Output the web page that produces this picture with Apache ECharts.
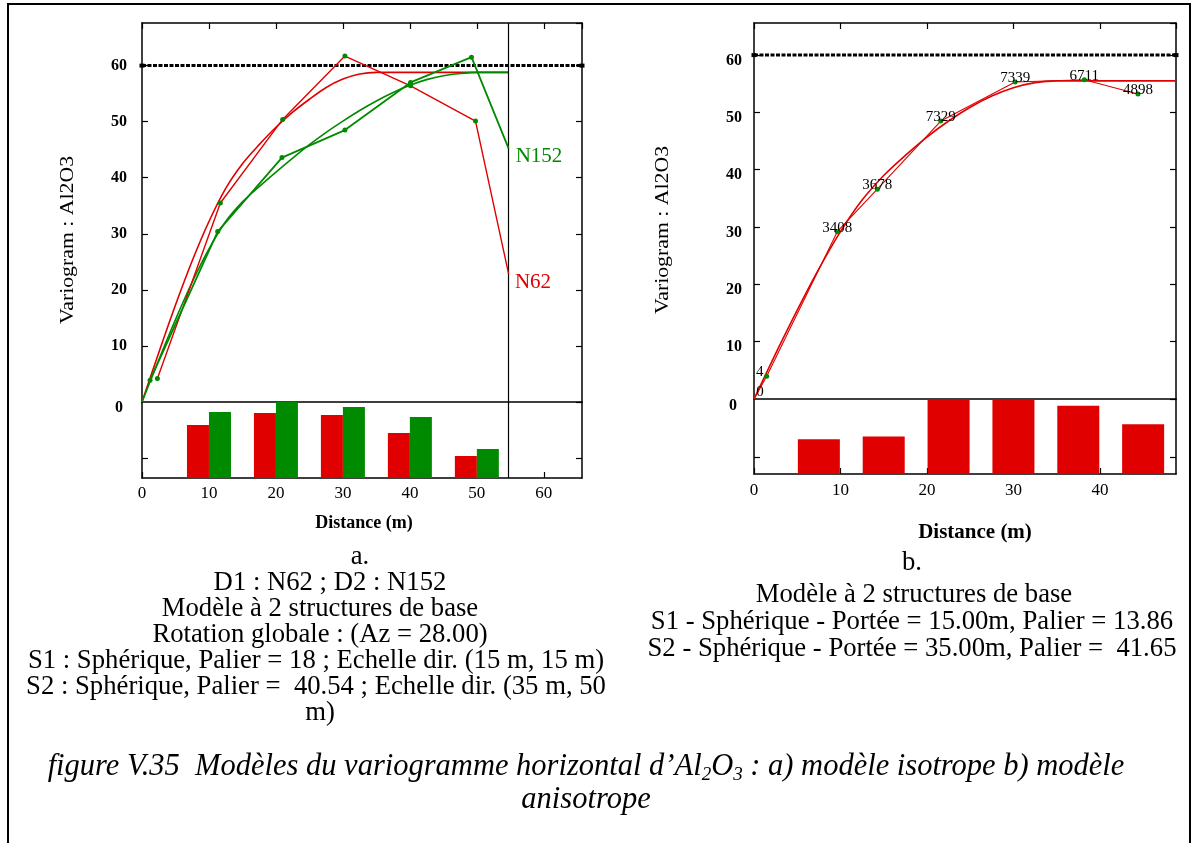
<!DOCTYPE html>
<html>
<head>
<meta charset="utf-8">
<script src="https://cdn.jsdelivr.net/npm/echarts@6/dist/echarts.min.js"></script>
<style>
html,body{margin:0;padding:0;background:#fff;}
#c{width:1195px;height:843px;}
</style>
</head>
<body>
<div id="c"></div>
<script>
// ---------- DATA ----------
// Chart a : isotropic model, directions N62 (red) and N152 (green)
const lagsA = [10, 20, 30, 40, 50];
const pairsN62 = [53, 65, 63, 45, 22];      // relative pair counts
const pairsN152 = [66, 76, 71, 61, 29];
const expN62 = [[2.3, 4.2], [11.7, 35.5], [21.0, 50.4], [30.3, 61.7], [40.1, 56.4], [49.8, 50.1], [54.75, 22.8]];
const expN152 = [[1.2, 3.9], [11.3, 30.4], [20.9, 43.6], [30.3, 48.5], [40.1, 57.0], [49.2, 61.5], [54.75, 45.2]];
const modelDistA = [0, 2.5, 5, 7.5, 10, 12.5, 15, 17.5, 20, 22.5, 25, 27.5, 30, 32.5, 35, 37.5, 40, 42.5, 45, 47.5, 50, 54.75];
const modelN62 = [0, 8.8, 17.3, 25.2, 32.2, 38.1, 42.5, 45.9, 49.0, 51.7, 54.0, 56.1, 57.6, 58.5, 58.8, 58.8, 58.8, 58.8, 58.8, 58.8, 58.8, 58.8];
const modelN152 = [0, 7.5, 14.7, 21.4, 27.3, 32.2, 35.7, 38.4, 41.0, 43.5, 45.9, 48.1, 50.1, 52.0, 53.7, 55.2, 56.5, 57.5, 58.2, 58.6, 58.8, 58.8];
const sillA = 60;
const cutA = 54.75;
const xMaxA = 65.7, yMaxA = 67.6;

// Chart b : anisotropic model
const lagsB = [7.5, 15, 22.5, 30, 37.5, 45];
const pairsB = [3408, 3678, 7329, 7339, 6711, 4898];
const expB = [[0, 0], [1.47, 3.96], [9.63, 29.2], [14.26, 36.6], [21.6, 48.5], [30.2, 55.3], [38.2, 55.7], [44.4, 53.2]];
const expBLabels = ['0', '4', '3408', '3678', '7329', '7339', '6711', '4898'];
const modelDistB = [0, 2.5, 5, 7.5, 10, 12.5, 15, 17.5, 20, 22.5, 25, 27.5, 30, 32.5, 35, 48.8];
const modelB = [0, 7.9, 15.5, 22.7, 29.2, 34.7, 39.0, 42.5, 45.7, 48.5, 50.9, 52.85, 54.3, 55.2, 55.5, 55.5];
const sillB = 60;
const xMaxB = 48.8, yMaxB = 65.6, pairsMaxB = 7380, pairTickB = 1670;

const yTicks = [0, 10, 20, 30, 40, 50, 60];

// ---------- STYLE ----------
const RED = 'rgb(224,0,0)';
const GREEN = 'rgb(0,138,0)';
const SERIF = '"Liberation Serif","Times New Roman",serif';

const chart = echarts.init(document.getElementById('c'));

const axBase = {
  type: 'value',
  splitLine: {show: false},
  axisLine: {show: true, onZero: false, lineStyle: {color: '#000', width: 1.5}},
  axisTick: {show: false},
  axisLabel: {show: false},
};
function ax(extra) { return Object.assign({}, JSON.parse(JSON.stringify(axBase)), extra); }
const tickInside = {show: true, inside: true, length: 6, lineStyle: {color: '#000', width: 1.2}};

const xAxes = [
  ax({gridIndex: 0, position: 'bottom', min: 0, max: xMaxA}),
  ax({gridIndex: 0, position: 'top', min: 0, max: xMaxA, interval: 10, axisTick: tickInside}),
  ax({gridIndex: 1, position: 'bottom', min: 0, max: xMaxA, interval: 10, axisTick: tickInside,
      axisLabel: {show: true, showMaxLabel: false, margin: 7, color: '#000', fontFamily: SERIF, fontSize: 17,
        formatter: v => (v % 10 === 0 ? String(v) : '')}}),
  ax({gridIndex: 2, position: 'bottom', min: 0, max: xMaxB}),
  ax({gridIndex: 2, position: 'top', min: 0, max: xMaxB, interval: 10, axisTick: tickInside}),
  ax({gridIndex: 3, position: 'bottom', min: 0, max: xMaxB, interval: 10, axisTick: tickInside,
      axisLabel: {show: true, showMaxLabel: false, margin: 8, color: '#000', fontFamily: SERIF, fontSize: 17,
        formatter: v => (v % 10 === 0 ? String(v) : '')}}),
];
const yLab = (m, va, lh) => ({show: true, showMinLabel: false, showMaxLabel: false, margin: m, color: '#000', fontFamily: SERIF,
  fontSize: 16, fontWeight: 'bold', verticalAlign: va, lineHeight: lh,
  formatter: v => (yTicks.indexOf(v) >= 0 ? String(v) : '')});
const yAxes = [
  ax({gridIndex: 0, position: 'left', min: 0, max: yMaxA, interval: 10, axisTick: tickInside, axisLabel: yLab(15, 'middle', 16)}),
  ax({gridIndex: 0, position: 'right', min: 0, max: yMaxA, interval: 10, axisTick: tickInside}),
  ax({gridIndex: 1, position: 'left', min: 0, max: 76, interval: 20,
      axisTick: Object.assign({}, tickInside, {customValues: [20]})}),
  ax({gridIndex: 1, position: 'right', min: 0, max: 76, interval: 20,
      axisTick: Object.assign({}, tickInside, {customValues: [20]})}),
  ax({gridIndex: 2, position: 'left', min: 0, max: yMaxB, interval: 10, axisTick: tickInside, axisLabel: yLab(12, 'top', 11)}),
  ax({gridIndex: 2, position: 'right', min: 0, max: yMaxB, interval: 10, axisTick: tickInside}),
  ax({gridIndex: 3, position: 'left', min: 0, max: pairsMaxB,
      axisTick: Object.assign({}, tickInside, {customValues: [pairTickB]})}),
  ax({gridIndex: 3, position: 'right', min: 0, max: pairsMaxB,
      axisTick: Object.assign({}, tickInside, {customValues: [pairTickB]})}),
];

const vline = (x) => ({symbol: 'none', silent: true, label: {show: false},
  lineStyle: {color: '#000', type: 'solid', width: 1.2}, data: [{xAxis: x}]});

const sillSeries = (xi, yi, xmax, s) => ({
  type: 'line', xAxisIndex: xi, yAxisIndex: yi, data: [[0, s], [xmax, s]],
  symbol: 'rect', symbolSize: [5, 4], itemStyle: {color: '#000'},
  lineStyle: {color: '#000', width: 3, type: [4, 1.5]}, z: 3, animation: false
});

const modelSeries = (xi, yi, xs, ys, color) => ({
  type: 'line', xAxisIndex: xi, yAxisIndex: yi, data: xs.map((x, i) => [x, ys[i]]),
  smooth: 0.3, symbol: 'none', lineStyle: {color: color, width: 1.6}, z: 4, animation: false
});

const expSeries = (xi, yi, pts, color, w) => ({
  type: 'line', xAxisIndex: xi, yAxisIndex: yi,
  data: pts.map((p, i) => (i === pts.length - 1 ? {value: p, symbol: 'none'} : {value: p})),
  symbol: 'circle', symbolSize: 5, itemStyle: {color: GREEN},
  lineStyle: {color: color, width: w}, z: 5, animation: false
});

const series = [
  sillSeries(0, 0, xMaxA, sillA),
  modelSeries(0, 0, modelDistA, modelN62, RED),
  modelSeries(0, 0, modelDistA, modelN152, GREEN),
  expSeries(0, 0, expN62, RED, 1.4),
  Object.assign(expSeries(0, 0, expN152, GREEN, 1.8), {markLine: vline(cutA)}),
  {type: 'bar', xAxisIndex: 2, yAxisIndex: 2, data: lagsA.map((x, i) => [x, pairsN62[i]]),
   barWidth: 22, barGap: '0%', itemStyle: {color: RED}, animation: false},
  {type: 'bar', xAxisIndex: 2, yAxisIndex: 2, data: lagsA.map((x, i) => [x, pairsN152[i]]),
   barWidth: 22, barGap: '0%', itemStyle: {color: GREEN}, animation: false},
  {type: 'line', xAxisIndex: 2, yAxisIndex: 2, data: [], markLine: vline(cutA), animation: false},

  sillSeries(3, 4, xMaxB, sillB),
  modelSeries(3, 4, modelDistB, modelB, RED),
  {type: 'line', xAxisIndex: 3, yAxisIndex: 4,
   data: expB.map((p, i) => {
     const d = {value: p};
     if (i === 0) { d.symbolSize = 1; d.itemStyle = {color: RED}; d.label = {offset: [6, -7]}; }
     if (i === 1) { d.label = {offset: [-7, -4]}; }
     return d;
   }),
   symbol: 'circle', symbolSize: 5, itemStyle: {color: GREEN},
   lineStyle: {color: RED, width: 1.1},
   label: {show: true, position: 'inside', offset: [0, -4], color: '#000', fontFamily: SERIF, fontSize: 15,
     formatter: p => expBLabels[p.dataIndex]},
   z: 5, animation: false},
  {type: 'bar', xAxisIndex: 5, yAxisIndex: 6, data: lagsB.map((x, i) => [x, pairsB[i]]),
   barWidth: 42, itemStyle: {color: RED}, animation: false},
];

const TXT = '26.7px ' + SERIF;
const T = (x, y, text, opt) => ({
  type: 'text', x: x, y: y, silent: true,
  style: Object.assign({text: text, fill: '#000', font: TXT, align: 'center', verticalAlign: 'middle'}, opt || {})
});
const L = (x1, y1, x2, y2, w) => ({type: 'line', silent: true, shape: {x1, y1, x2, y2}, style: {stroke: '#000', lineWidth: w || 2}});

const graphics = [
  L(8, 4, 8, 843), L(7, 4, 1191, 4), L(1190, 4, 1190, 843),
  T(119, 408, '0', {font: 'bold 16px ' + SERIF}),
  T(733, 406, '0', {font: 'bold 16px ' + SERIF}),
  Object.assign(T(68, 240, 'Variogram : Al2O3', {font: '18px ' + SERIF}), {rotation: Math.PI / 2, scaleX: 1.21}),
  Object.assign(T(663, 230, 'Variogram : Al2O3', {font: '18px ' + SERIF}), {rotation: Math.PI / 2, scaleX: 1.21}),
  T(364, 523, 'Distance (m)', {font: 'bold 18px ' + SERIF}),
  T(975, 533, 'Distance (m)', {font: 'bold 21px ' + SERIF}),
  T(539, 156, 'N152', {fill: GREEN, font: '21px ' + SERIF}),
  T(533, 282, 'N62', {fill: RED, font: '21px ' + SERIF}),
  T(360, 557, 'a.'),
  T(330, 583, 'D1 : N62 ; D2 : N152'),
  T(320, 609, 'Modèle à 2 structures de base'),
  T(320, 635, 'Rotation globale : (Az = 28.00)'),
  T(316, 661, 'S1 : Sphérique, Palier = 18 ; Echelle dir. (15 m, 15 m)'),
  T(316, 687, 'S2 : Sphérique, Palier =  40.54 ; Echelle dir. (35 m, 50'),
  T(320, 713, 'm)'),
  T(912, 563, 'b.'),
  T(914, 595, 'Modèle à 2 structures de base'),
  T(912, 622, 'S1 - Sphérique - Portée = 15.00m, Palier = 13.86'),
  T(912, 649, 'S2 - Sphérique - Portée = 35.00m, Palier =  41.65'),
  {type: 'text', x: 586, y: 767, silent: true, style: {
    text: '{i|figure V.35  Modèles du variogramme horizontal d’Al}{s|2}{i|O}{s|3}{i| : a) modèle isotrope b) modèle}',
    align: 'center', verticalAlign: 'middle', fill: '#000',
    rich: {
      i: {fontFamily: SERIF, fontStyle: 'italic', fontSize: 30.5, lineHeight: 34, verticalAlign: 'middle'},
      s: {fontFamily: SERIF, fontStyle: 'italic', fontSize: 19, lineHeight: 34, verticalAlign: 'bottom'}
    }}},
  T(586, 800, 'anisotrope', {font: 'italic 30.5px ' + SERIF}),
];

chart.setOption({
  animation: false,
  grid: [
    {left: 142, top: 23, width: 440, height: 379},
    {left: 142, top: 402, width: 440, height: 76},
    {left: 754, top: 23, width: 422, height: 376},
    {left: 754, top: 399, width: 422, height: 75},
  ],
  xAxis: xAxes,
  yAxis: yAxes,
  series: series,
  graphic: graphics,
});
</script>
</body>
</html>
